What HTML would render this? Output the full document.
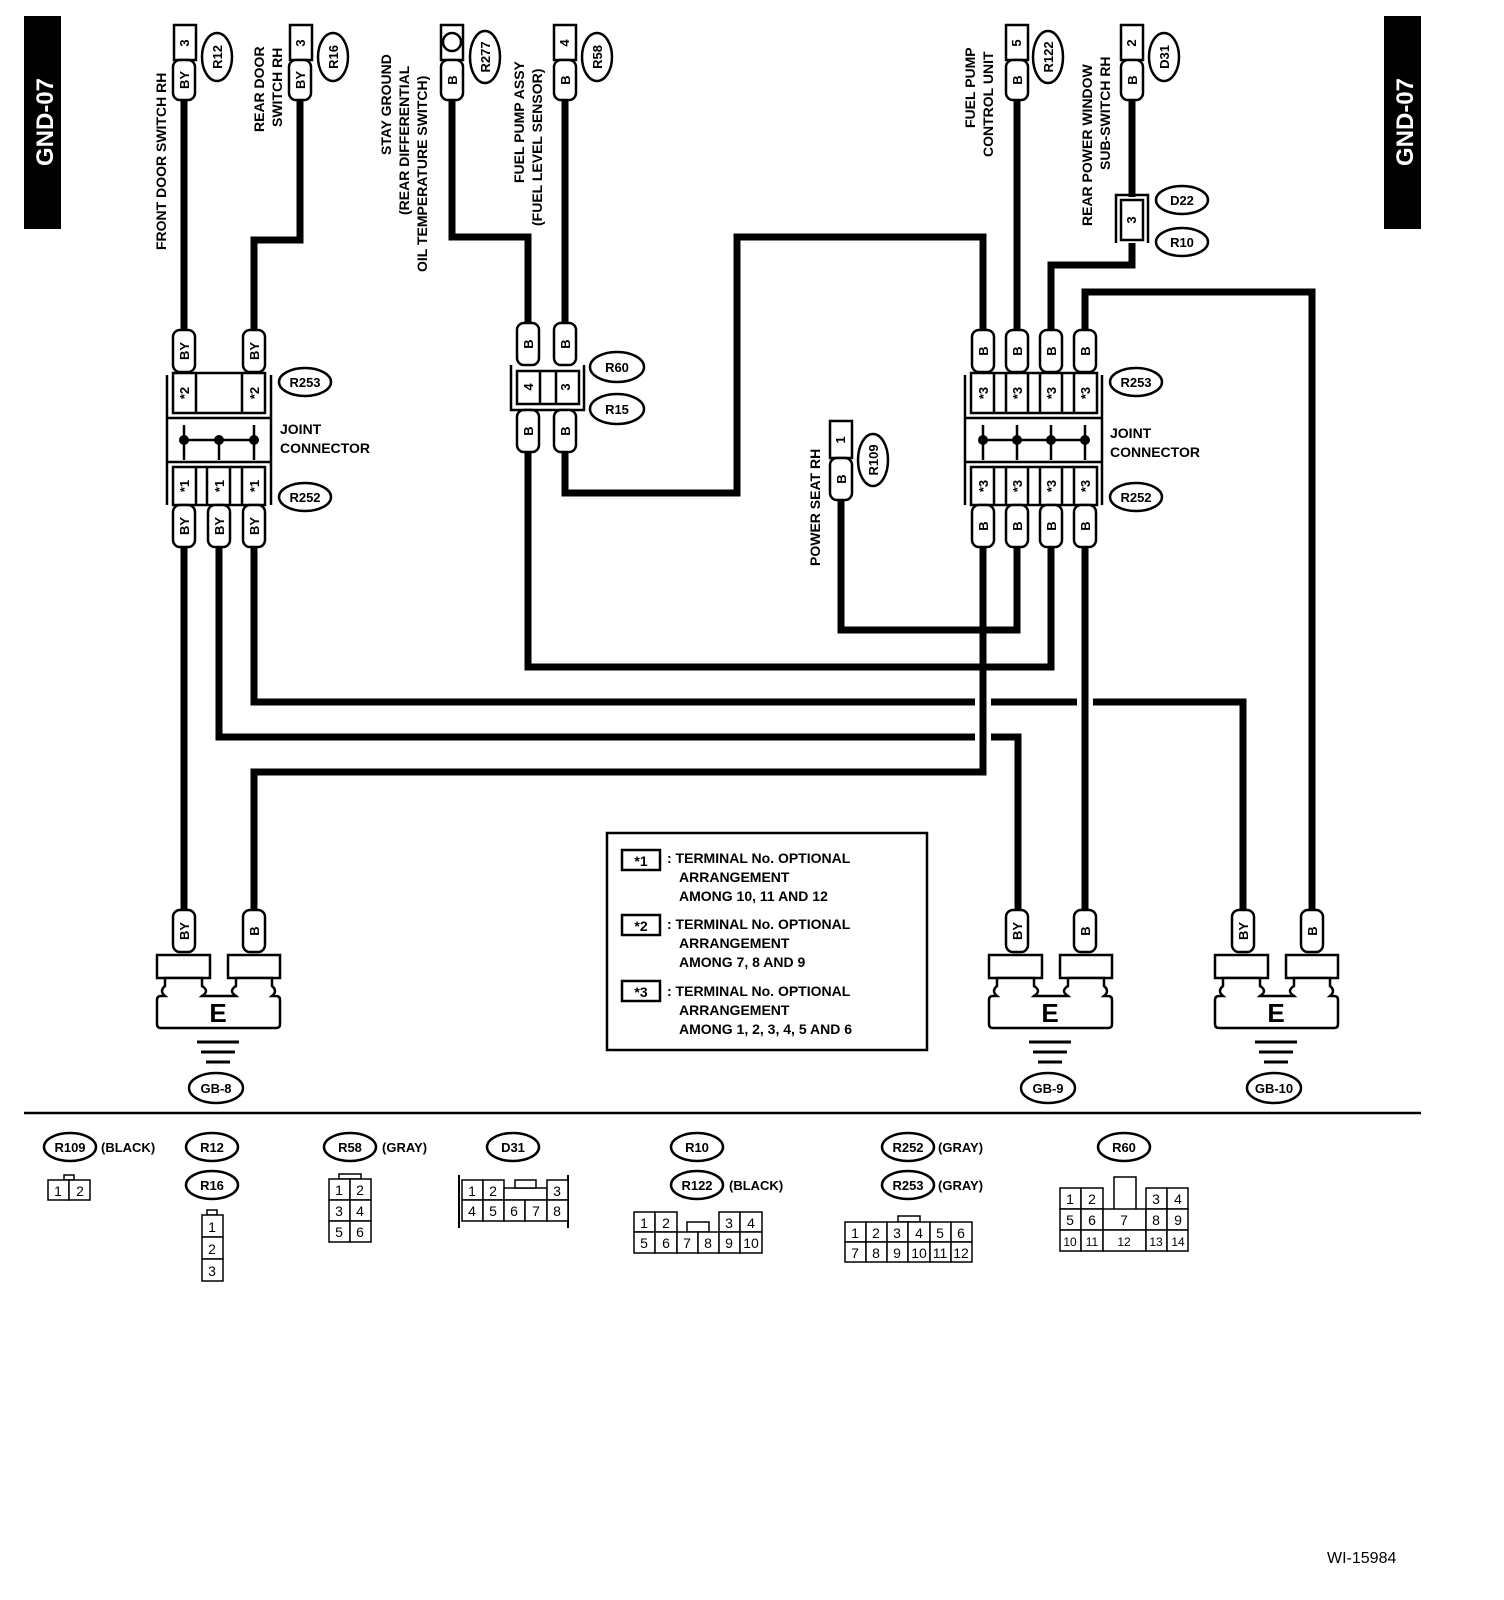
<!DOCTYPE html>
<html><head><meta charset="utf-8"><style>
html,body{margin:0;padding:0;background:#fff}
svg{display:block}
text{font-family:"Liberation Sans",sans-serif;font-weight:bold;fill:#000}
.w{fill:none;stroke:#000;stroke-width:7}
.p{fill:#fff;stroke:#000;stroke-width:2.5}
.b{fill:#fff;stroke:#000;stroke-width:2.5}
.t{font-size:13px}
.l{font-size:14px}
.c{fill:#fff;stroke:#000;stroke-width:1.5}
.n{font-size:14px;font-weight:normal}
</style></head><body>
<svg width="1504" height="1600" viewBox="0 0 1504 1600" xmlns="http://www.w3.org/2000/svg">
<defs>
<g id="eb">
<rect class="b" x="157" y="955" width="53" height="23"/><rect class="b" x="228" y="955" width="52" height="23"/>
<path class="b" d="M165 978V986Q159 991 165 996H161Q157 996 157 1000V1024Q157 1028 161 1028H276Q280 1028 280 1024V1000Q280 996 276 996H272Q278 991 272 986V978H236V986Q230 991 236 996H202Q208 991 202 986V978Z"/>
<path d="M202 986Q210 991 202 996M236 986Q228 991 236 996" fill="#fff" stroke="#000" stroke-width="2.5"/>
<path d="M197 1042H239M201 1052H235M206 1062H230" stroke="#000" stroke-width="3"/>
</g>
</defs>
<!-- tabs -->
<rect x="24" y="16" width="37" height="213" fill="#000"/>
<text transform="translate(53,122) rotate(-90)" text-anchor="middle" style="font-size:24px;fill:#fff">GND-07</text>
<rect x="1384" y="16" width="37" height="213" fill="#000"/>
<text transform="translate(1413,122) rotate(-90)" text-anchor="middle" style="font-size:24px;fill:#fff">GND-07</text>

<!-- wires -->
<path class="w" d="M184 100V330M184 545V910"/>
<path class="w" d="M300 100V240H254V330"/>
<path class="w" d="M219 545V737H975M991 737H1018V910"/>
<path class="w" d="M254 545V702H975M991 702H1077M1093 702H1243V910"/>
<path class="w" d="M254 910V772H983V545"/>
<path class="w" d="M1017 545V630H841V500"/>
<path class="w" d="M1051 545V667H528V450"/>
<path class="w" d="M1085 545V910"/>
<path class="w" d="M983 330V237H737V493H565V450"/>
<path class="w" d="M1017 330V100"/>
<path class="w" d="M1051 330V265H1132V243"/>
<path class="w" d="M1085 330V292H1312V910"/>
<path class="w" d="M1132 100V197"/>
<path class="w" d="M452 100V237H528V323"/>
<path class="w" d="M565 100V323"/>

<!-- top device connectors -->
<g>
<rect class="b" x="174" y="25" width="22" height="35"/><text class="t" transform="translate(189,43) rotate(-90)" text-anchor="middle">3</text>
<rect class="p" x="173" y="60" width="22" height="40" rx="7"/><text class="t" transform="translate(189,80) rotate(-90)" text-anchor="middle">BY</text>
<ellipse class="b" cx="217" cy="57" rx="15" ry="24"/><text class="t" transform="translate(222,57) rotate(-90)" text-anchor="middle">R12</text>

<rect class="b" x="290" y="25" width="22" height="35"/><text class="t" transform="translate(305,43) rotate(-90)" text-anchor="middle">3</text>
<rect class="p" x="289" y="60" width="22" height="40" rx="7"/><text class="t" transform="translate(305,80) rotate(-90)" text-anchor="middle">BY</text>
<ellipse class="b" cx="333" cy="57" rx="15" ry="24"/><text class="t" transform="translate(338,57) rotate(-90)" text-anchor="middle">R16</text>

<rect class="b" x="441" y="25" width="22" height="35"/><circle cx="452" cy="42" r="9" fill="#fff" stroke="#000" stroke-width="2.5"/>
<rect class="p" x="441" y="60" width="22" height="40" rx="7"/><text class="t" transform="translate(457,80) rotate(-90)" text-anchor="middle">B</text>
<ellipse class="b" cx="485" cy="57" rx="15" ry="26"/><text class="t" transform="translate(490,57) rotate(-90)" text-anchor="middle">R277</text>

<rect class="b" x="554" y="25" width="22" height="35"/><text class="t" transform="translate(569,43) rotate(-90)" text-anchor="middle">4</text>
<rect class="p" x="554" y="60" width="22" height="40" rx="7"/><text class="t" transform="translate(570,80) rotate(-90)" text-anchor="middle">B</text>
<ellipse class="b" cx="597" cy="57" rx="15" ry="24"/><text class="t" transform="translate(602,57) rotate(-90)" text-anchor="middle">R58</text>

<rect class="b" x="1006" y="25" width="22" height="35"/><text class="t" transform="translate(1021,43) rotate(-90)" text-anchor="middle">5</text>
<rect class="p" x="1006" y="60" width="22" height="40" rx="7"/><text class="t" transform="translate(1022,80) rotate(-90)" text-anchor="middle">B</text>
<ellipse class="b" cx="1048" cy="57" rx="15" ry="26"/><text class="t" transform="translate(1053,57) rotate(-90)" text-anchor="middle">R122</text>

<rect class="b" x="1121" y="25" width="22" height="35"/><text class="t" transform="translate(1136,43) rotate(-90)" text-anchor="middle">2</text>
<rect class="p" x="1121" y="60" width="22" height="40" rx="7"/><text class="t" transform="translate(1137,80) rotate(-90)" text-anchor="middle">B</text>
<ellipse class="b" cx="1164" cy="57" rx="15" ry="24"/><text class="t" transform="translate(1169,57) rotate(-90)" text-anchor="middle">D31</text>

<path d="M1116 243V195H1148V243" fill="none" stroke="#000" stroke-width="2.5"/>
<rect class="b" x="1121" y="200" width="22" height="40"/><text class="t" transform="translate(1136,220) rotate(-90)" text-anchor="middle">3</text>
<ellipse class="b" cx="1182" cy="200" rx="26" ry="14"/><text class="t" x="1182" y="205" text-anchor="middle">D22</text>
<ellipse class="b" cx="1182" cy="242" rx="26" ry="14"/><text class="t" x="1182" y="247" text-anchor="middle">R10</text>

<rect class="b" x="830" y="421" width="22" height="37"/><text class="t" transform="translate(845,440) rotate(-90)" text-anchor="middle">1</text>
<rect class="p" x="830" y="458" width="22" height="42" rx="7"/><text class="t" transform="translate(846,479) rotate(-90)" text-anchor="middle">B</text>
<ellipse class="b" cx="873" cy="460" rx="15" ry="26"/><text class="t" transform="translate(878,460) rotate(-90)" text-anchor="middle">R109</text>
</g>

<!-- labels -->
<g class="l">
<text class="l" transform="translate(166,250) rotate(-90)">FRONT DOOR SWITCH RH</text>
<text class="l" transform="translate(264,132) rotate(-90)">REAR DOOR</text>
<text class="l" transform="translate(282,127) rotate(-90)">SWITCH RH</text>
<text class="l" transform="translate(391,155) rotate(-90)">STAY GROUND</text>
<text class="l" transform="translate(409,215) rotate(-90)">(REAR DIFFERENTIAL</text>
<text class="l" transform="translate(427,272) rotate(-90)">OIL TEMPERATURE SWITCH)</text>
<text class="l" transform="translate(524,183) rotate(-90)">FUEL PUMP ASSY</text>
<text class="l" transform="translate(542,226) rotate(-90)">(FUEL LEVEL SENSOR)</text>
<text class="l" transform="translate(975,128) rotate(-90)">FUEL PUMP</text>
<text class="l" transform="translate(993,157) rotate(-90)">CONTROL UNIT</text>
<text class="l" transform="translate(1092,226) rotate(-90)">REAR POWER WINDOW</text>
<text class="l" transform="translate(1110,170) rotate(-90)">SUB-SWITCH RH</text>
<text class="l" transform="translate(820,566) rotate(-90)">POWER SEAT RH</text>
<text class="l" x="280" y="434">JOINT</text><text class="l" x="280" y="453">CONNECTOR</text>
<text class="l" x="1110" y="438">JOINT</text><text class="l" x="1110" y="457">CONNECTOR</text>
</g>

<!-- left joint connector -->
<g>
<path d="M167 375V505M271 375V505" stroke="#000" stroke-width="2.5"/>
<rect class="b" x="173" y="373" width="92" height="40"/><path d="M196 373V413M242 373V413" stroke="#000" stroke-width="2.5"/>
<text class="t" transform="translate(189,393) rotate(-90)" text-anchor="middle">*2</text>
<text class="t" transform="translate(259,393) rotate(-90)" text-anchor="middle">*2</text>
<path d="M167 418H271M167 462H271" stroke="#000" stroke-width="2.5"/>
<path d="M184 425V460M219 440V460M254 425V460M184 440H254" stroke="#000" stroke-width="2.5"/>
<circle cx="184" cy="440" r="5"/><circle cx="219" cy="440" r="5"/><circle cx="254" cy="440" r="5"/>
<rect class="b" x="173" y="467" width="92" height="38"/><path d="M196 467V505M207 467V505M230 467V505M242 467V505" stroke="#000" stroke-width="2.5"/>
<text class="t" transform="translate(189,486) rotate(-90)" text-anchor="middle">*1</text>
<text class="t" transform="translate(224,486) rotate(-90)" text-anchor="middle">*1</text>
<text class="t" transform="translate(259,486) rotate(-90)" text-anchor="middle">*1</text>
<rect class="p" x="173" y="330" width="22" height="42" rx="7"/><text class="t" transform="translate(189,351) rotate(-90)" text-anchor="middle">BY</text>
<rect class="p" x="243" y="330" width="22" height="42" rx="7"/><text class="t" transform="translate(259,351) rotate(-90)" text-anchor="middle">BY</text>
<rect class="p" x="173" y="505" width="22" height="42" rx="7"/><text class="t" transform="translate(189,526) rotate(-90)" text-anchor="middle">BY</text>
<rect class="p" x="208" y="505" width="22" height="42" rx="7"/><text class="t" transform="translate(224,526) rotate(-90)" text-anchor="middle">BY</text>
<rect class="p" x="243" y="505" width="22" height="42" rx="7"/><text class="t" transform="translate(259,526) rotate(-90)" text-anchor="middle">BY</text>
<ellipse class="b" cx="305" cy="382" rx="26" ry="14"/><text class="t" x="305" y="387" text-anchor="middle">R253</text>
<ellipse class="b" cx="305" cy="497" rx="26" ry="14"/><text class="t" x="305" y="502" text-anchor="middle">R252</text>
</g>

<!-- right joint connector -->
<g>
<path d="M965 375V505M1102 375V505" stroke="#000" stroke-width="2.5"/>
<rect class="b" x="971" y="373" width="126" height="40"/><path d="M994 373V413M1006 373V413M1028 373V413M1040 373V413M1062 373V413M1074 373V413" stroke="#000" stroke-width="2.5"/>
<rect class="b" x="971" y="467" width="126" height="38"/><path d="M994 467V505M1006 467V505M1028 467V505M1040 467V505M1062 467V505M1074 467V505" stroke="#000" stroke-width="2.5"/>
<path d="M965 418H1102M965 462H1102" stroke="#000" stroke-width="2.5"/>
<path d="M983 425V460M1017 425V460M1051 425V460M1085 425V460M983 440H1085" stroke="#000" stroke-width="2.5"/>
<circle cx="983" cy="440" r="5"/><circle cx="1017" cy="440" r="5"/><circle cx="1051" cy="440" r="5"/><circle cx="1085" cy="440" r="5"/>
<g class="t">
<text class="t" transform="translate(988,393) rotate(-90)" text-anchor="middle">*3</text>
<text class="t" transform="translate(1022,393) rotate(-90)" text-anchor="middle">*3</text>
<text class="t" transform="translate(1056,393) rotate(-90)" text-anchor="middle">*3</text>
<text class="t" transform="translate(1090,393) rotate(-90)" text-anchor="middle">*3</text>
<text class="t" transform="translate(988,486) rotate(-90)" text-anchor="middle">*3</text>
<text class="t" transform="translate(1022,486) rotate(-90)" text-anchor="middle">*3</text>
<text class="t" transform="translate(1056,486) rotate(-90)" text-anchor="middle">*3</text>
<text class="t" transform="translate(1090,486) rotate(-90)" text-anchor="middle">*3</text>
</g>
<rect class="p" x="972" y="330" width="22" height="42" rx="7"/><text class="t" transform="translate(988,351) rotate(-90)" text-anchor="middle">B</text>
<rect class="p" x="1006" y="330" width="22" height="42" rx="7"/><text class="t" transform="translate(1022,351) rotate(-90)" text-anchor="middle">B</text>
<rect class="p" x="1040" y="330" width="22" height="42" rx="7"/><text class="t" transform="translate(1056,351) rotate(-90)" text-anchor="middle">B</text>
<rect class="p" x="1074" y="330" width="22" height="42" rx="7"/><text class="t" transform="translate(1090,351) rotate(-90)" text-anchor="middle">B</text>
<rect class="p" x="972" y="505" width="22" height="42" rx="7"/><text class="t" transform="translate(988,526) rotate(-90)" text-anchor="middle">B</text>
<rect class="p" x="1006" y="505" width="22" height="42" rx="7"/><text class="t" transform="translate(1022,526) rotate(-90)" text-anchor="middle">B</text>
<rect class="p" x="1040" y="505" width="22" height="42" rx="7"/><text class="t" transform="translate(1056,526) rotate(-90)" text-anchor="middle">B</text>
<rect class="p" x="1074" y="505" width="22" height="42" rx="7"/><text class="t" transform="translate(1090,526) rotate(-90)" text-anchor="middle">B</text>
<ellipse class="b" cx="1136" cy="382" rx="26" ry="14"/><text class="t" x="1136" y="387" text-anchor="middle">R253</text>
<ellipse class="b" cx="1136" cy="497" rx="26" ry="14"/><text class="t" x="1136" y="502" text-anchor="middle">R252</text>
</g>

<!-- R60/R15 -->
<g>
<path d="M511 365V410H584V365" fill="none" stroke="#000" stroke-width="2.5"/>
<rect class="b" x="517" y="371" width="62" height="33"/><path d="M540 371V404M556 371V404" stroke="#000" stroke-width="2.5"/>
<text class="t" transform="translate(533,387) rotate(-90)" text-anchor="middle">4</text>
<text class="t" transform="translate(570,387) rotate(-90)" text-anchor="middle">3</text>
<rect class="p" x="517" y="323" width="22" height="42" rx="7"/><text class="t" transform="translate(533,344) rotate(-90)" text-anchor="middle">B</text>
<rect class="p" x="554" y="323" width="22" height="42" rx="7"/><text class="t" transform="translate(570,344) rotate(-90)" text-anchor="middle">B</text>
<rect class="p" x="517" y="410" width="22" height="42" rx="7"/><text class="t" transform="translate(533,431) rotate(-90)" text-anchor="middle">B</text>
<rect class="p" x="554" y="410" width="22" height="42" rx="7"/><text class="t" transform="translate(570,431) rotate(-90)" text-anchor="middle">B</text>
<ellipse class="b" cx="617" cy="367" rx="27" ry="15"/><text class="t" x="617" y="372" text-anchor="middle">R60</text>
<ellipse class="b" cx="617" cy="409" rx="27" ry="15"/><text class="t" x="617" y="414" text-anchor="middle">R15</text>
</g>

<!-- grounds -->
<g>
<rect class="p" x="173" y="910" width="22" height="42" rx="7"/><text class="t" transform="translate(189,931) rotate(-90)" text-anchor="middle">BY</text>
<rect class="p" x="243" y="910" width="22" height="42" rx="7"/><text class="t" transform="translate(259,931) rotate(-90)" text-anchor="middle">B</text>
<use href="#eb"/>
<text x="218" y="1022" text-anchor="middle" style="font-size:26px">E</text>
<ellipse class="b" cx="216" cy="1088" rx="27" ry="15"/><text class="t" x="216" y="1093" text-anchor="middle">GB-8</text>
</g>
<g transform="translate(832,0)">
<rect class="p" x="174" y="910" width="22" height="42" rx="7"/><text class="t" transform="translate(190,931) rotate(-90)" text-anchor="middle">BY</text>
<rect class="p" x="242" y="910" width="22" height="42" rx="7"/><text class="t" transform="translate(258,931) rotate(-90)" text-anchor="middle">B</text>
<use href="#eb"/>
<text x="218" y="1022" text-anchor="middle" style="font-size:26px">E</text>
<ellipse class="b" cx="216" cy="1088" rx="27" ry="15"/><text class="t" x="216" y="1093" text-anchor="middle">GB-9</text>
</g>
<g transform="translate(1058,0)">
<rect class="p" x="174" y="910" width="22" height="42" rx="7"/><text class="t" transform="translate(190,931) rotate(-90)" text-anchor="middle">BY</text>
<rect class="p" x="243" y="910" width="22" height="42" rx="7"/><text class="t" transform="translate(259,931) rotate(-90)" text-anchor="middle">B</text>
<use href="#eb"/>
<text x="218" y="1022" text-anchor="middle" style="font-size:26px">E</text>
<ellipse class="b" cx="216" cy="1088" rx="27" ry="15"/><text class="t" x="216" y="1093" text-anchor="middle">GB-10</text>
</g>

<!-- legend -->
<rect x="607" y="833" width="320" height="217" fill="#fff" stroke="#000" stroke-width="2.5"/>
<g class="l">
<rect x="622" y="850" width="38" height="20" fill="#fff" stroke="#000" stroke-width="2.5"/><text class="l" x="641" y="866" text-anchor="middle">*1</text>
<text class="l" x="667" y="863">: TERMINAL No. OPTIONAL</text>
<text class="l" x="679" y="882">ARRANGEMENT</text>
<text class="l" x="679" y="901">AMONG 10, 11  AND 12</text>
<rect x="622" y="915" width="38" height="20" fill="#fff" stroke="#000" stroke-width="2.5"/><text class="l" x="641" y="931" text-anchor="middle">*2</text>
<text class="l" x="667" y="929">: TERMINAL No. OPTIONAL</text>
<text class="l" x="679" y="948">ARRANGEMENT</text>
<text class="l" x="679" y="967">AMONG 7, 8  AND 9</text>
<rect x="622" y="981" width="38" height="20" fill="#fff" stroke="#000" stroke-width="2.5"/><text class="l" x="641" y="997" text-anchor="middle">*3</text>
<text class="l" x="667" y="996">: TERMINAL No. OPTIONAL</text>
<text class="l" x="679" y="1015">ARRANGEMENT</text>
<text class="l" x="679" y="1034">AMONG 1, 2, 3, 4, 5  AND 6</text>
</g>

<path d="M24 1113H1421" stroke="#000" stroke-width="2.5"/>

<!-- bottom connector labels -->
<g>
<ellipse class="b" cx="70" cy="1147" rx="26" ry="14"/><text class="t" x="70" y="1152" text-anchor="middle">R109</text><text class="t" x="101" y="1152">(BLACK)</text>
<ellipse class="b" cx="212" cy="1147" rx="26" ry="14"/><text class="t" x="212" y="1152" text-anchor="middle">R12</text>
<ellipse class="b" cx="212" cy="1185" rx="26" ry="14"/><text class="t" x="212" y="1190" text-anchor="middle">R16</text>
<ellipse class="b" cx="350" cy="1147" rx="26" ry="14"/><text class="t" x="350" y="1152" text-anchor="middle">R58</text><text class="t" x="382" y="1152">(GRAY)</text>
<ellipse class="b" cx="513" cy="1147" rx="26" ry="14"/><text class="t" x="513" y="1152" text-anchor="middle">D31</text>
<ellipse class="b" cx="697" cy="1147" rx="26" ry="14"/><text class="t" x="697" y="1152" text-anchor="middle">R10</text>
<ellipse class="b" cx="697" cy="1185" rx="26" ry="14"/><text class="t" x="697" y="1190" text-anchor="middle">R122</text><text class="t" x="729" y="1190">(BLACK)</text>
<ellipse class="b" cx="908" cy="1147" rx="26" ry="14"/><text class="t" x="908" y="1152" text-anchor="middle">R252</text><text class="t" x="938" y="1152">(GRAY)</text>
<ellipse class="b" cx="908" cy="1185" rx="26" ry="14"/><text class="t" x="908" y="1190" text-anchor="middle">R253</text><text class="t" x="938" y="1190">(GRAY)</text>
<ellipse class="b" cx="1124" cy="1147" rx="26" ry="14"/><text class="t" x="1124" y="1152" text-anchor="middle">R60</text>
</g>

<!-- bottom connector grids -->
<g class="n">
<rect class="c" x="64" y="1175" width="10" height="5"/>
<rect class="c" x="48" y="1180" width="21" height="20"/><rect class="c" x="69" y="1180" width="21" height="20"/>
<text class="n" x="58" y="1196" text-anchor="middle">1</text><text class="n" x="80" y="1196" text-anchor="middle">2</text>
<rect class="c" x="207" y="1210" width="10" height="5"/>
<rect class="c" x="202" y="1215" width="21" height="22"/><rect class="c" x="202" y="1237" width="21" height="22"/><rect class="c" x="202" y="1259" width="21" height="22"/>
<text class="n" x="212" y="1232" text-anchor="middle">1</text><text class="n" x="212" y="1254" text-anchor="middle">2</text><text class="n" x="212" y="1276" text-anchor="middle">3</text>
<rect class="c" x="339" y="1174" width="22" height="5"/>
<rect class="c" x="329" y="1179" width="21" height="21"/><rect class="c" x="350" y="1179" width="21" height="21"/>
<rect class="c" x="329" y="1200" width="21" height="21"/><rect class="c" x="350" y="1200" width="21" height="21"/>
<rect class="c" x="329" y="1221" width="21" height="21"/><rect class="c" x="350" y="1221" width="21" height="21"/>
<text class="n" x="339" y="1195" text-anchor="middle">1</text><text class="n" x="360" y="1195" text-anchor="middle">2</text>
<text class="n" x="339" y="1216" text-anchor="middle">3</text><text class="n" x="360" y="1216" text-anchor="middle">4</text>
<text class="n" x="339" y="1237" text-anchor="middle">5</text><text class="n" x="360" y="1237" text-anchor="middle">6</text>
<path d="M459 1175V1228M568 1175V1228" stroke="#000" stroke-width="2"/>
<rect class="c" x="462" y="1180" width="21" height="20"/><rect class="c" x="483" y="1180" width="21" height="20"/>
<rect class="c" x="504" y="1188" width="43" height="12"/><rect class="c" x="515" y="1180" width="21" height="8"/>
<rect class="c" x="547" y="1180" width="21" height="20"/>
<rect class="c" x="462" y="1200" width="21" height="21"/><rect class="c" x="483" y="1200" width="21" height="21"/><rect class="c" x="504" y="1200" width="21" height="21"/><rect class="c" x="525" y="1200" width="22" height="21"/><rect class="c" x="547" y="1200" width="21" height="21"/>
<text class="n" x="472" y="1196" text-anchor="middle">1</text><text class="n" x="493" y="1196" text-anchor="middle">2</text><text class="n" x="557" y="1196" text-anchor="middle">3</text>
<text class="n" x="472" y="1216" text-anchor="middle">4</text><text class="n" x="493" y="1216" text-anchor="middle">5</text><text class="n" x="514" y="1216" text-anchor="middle">6</text><text class="n" x="536" y="1216" text-anchor="middle">7</text><text class="n" x="557" y="1216" text-anchor="middle">8</text>
<rect class="c" x="634" y="1212" width="21" height="20"/><rect class="c" x="655" y="1212" width="22" height="20"/>
<rect class="c" x="687" y="1222" width="22" height="10"/>
<rect class="c" x="719" y="1212" width="21" height="20"/><rect class="c" x="740" y="1212" width="22" height="20"/>
<rect class="c" x="634" y="1232" width="21" height="21"/><rect class="c" x="655" y="1232" width="22" height="21"/><rect class="c" x="677" y="1232" width="21" height="21"/><rect class="c" x="698" y="1232" width="21" height="21"/><rect class="c" x="719" y="1232" width="21" height="21"/><rect class="c" x="740" y="1232" width="22" height="21"/>
<text class="n" x="644" y="1228" text-anchor="middle">1</text><text class="n" x="666" y="1228" text-anchor="middle">2</text><text class="n" x="729" y="1228" text-anchor="middle">3</text><text class="n" x="751" y="1228" text-anchor="middle">4</text>
<text class="n" x="644" y="1248" text-anchor="middle">5</text><text class="n" x="666" y="1248" text-anchor="middle">6</text><text class="n" x="687" y="1248" text-anchor="middle">7</text><text class="n" x="708" y="1248" text-anchor="middle">8</text><text class="n" x="729" y="1248" text-anchor="middle">9</text><text class="n" x="751" y="1248" text-anchor="middle">10</text>
<rect class="c" x="898" y="1216" width="22" height="6"/>
<rect class="c" x="845" y="1222" width="21" height="20"/><rect class="c" x="866" y="1222" width="21" height="20"/><rect class="c" x="887" y="1222" width="21" height="20"/><rect class="c" x="908" y="1222" width="22" height="20"/><rect class="c" x="930" y="1222" width="21" height="20"/><rect class="c" x="951" y="1222" width="21" height="20"/>
<rect class="c" x="845" y="1242" width="21" height="20"/><rect class="c" x="866" y="1242" width="21" height="20"/><rect class="c" x="887" y="1242" width="21" height="20"/><rect class="c" x="908" y="1242" width="22" height="20"/><rect class="c" x="930" y="1242" width="21" height="20"/><rect class="c" x="951" y="1242" width="21" height="20"/>
<text class="n" x="855" y="1238" text-anchor="middle">1</text><text class="n" x="876" y="1238" text-anchor="middle">2</text><text class="n" x="897" y="1238" text-anchor="middle">3</text><text class="n" x="919" y="1238" text-anchor="middle">4</text><text class="n" x="940" y="1238" text-anchor="middle">5</text><text class="n" x="961" y="1238" text-anchor="middle">6</text>
<text class="n" x="855" y="1258" text-anchor="middle">7</text><text class="n" x="876" y="1258" text-anchor="middle">8</text><text class="n" x="897" y="1258" text-anchor="middle">9</text><text class="n" x="919" y="1258" text-anchor="middle">10</text><text class="n" x="940" y="1258" text-anchor="middle">11</text><text class="n" x="961" y="1258" text-anchor="middle">12</text>
<rect class="c" x="1114" y="1177" width="22" height="33"/>
<rect class="c" x="1060" y="1188" width="21" height="21"/><rect class="c" x="1081" y="1188" width="22" height="21"/><rect class="c" x="1146" y="1188" width="21" height="21"/><rect class="c" x="1167" y="1188" width="21" height="21"/>
<rect class="c" x="1060" y="1209" width="21" height="21"/><rect class="c" x="1081" y="1209" width="22" height="21"/><rect class="c" x="1103" y="1209" width="43" height="21"/><rect class="c" x="1146" y="1209" width="21" height="21"/><rect class="c" x="1167" y="1209" width="21" height="21"/>
<rect class="c" x="1060" y="1230" width="21" height="21"/><rect class="c" x="1081" y="1230" width="22" height="21"/><rect class="c" x="1103" y="1230" width="43" height="21"/><rect class="c" x="1146" y="1230" width="21" height="21"/><rect class="c" x="1167" y="1230" width="21" height="21"/>
<text class="n" x="1070" y="1204" text-anchor="middle">1</text><text class="n" x="1092" y="1204" text-anchor="middle">2</text><text class="n" x="1156" y="1204" text-anchor="middle">3</text><text class="n" x="1178" y="1204" text-anchor="middle">4</text>
<text class="n" x="1070" y="1225" text-anchor="middle">5</text><text class="n" x="1092" y="1225" text-anchor="middle">6</text><text class="n" x="1124" y="1225" text-anchor="middle">7</text><text class="n" x="1156" y="1225" text-anchor="middle">8</text><text class="n" x="1178" y="1225" text-anchor="middle">9</text>
<text class="n" x="1070" y="1246" text-anchor="middle" style="font-size:12px">10</text><text class="n" x="1092" y="1246" text-anchor="middle" style="font-size:12px">11</text><text class="n" x="1124" y="1246" text-anchor="middle" style="font-size:12px">12</text><text class="n" x="1156" y="1246" text-anchor="middle" style="font-size:12px">13</text><text class="n" x="1178" y="1246" text-anchor="middle" style="font-size:12px">14</text>
</g>

<text x="1327" y="1563" style="font-size:16px;font-weight:normal">WI-15984</text>
</svg>
</body></html>
